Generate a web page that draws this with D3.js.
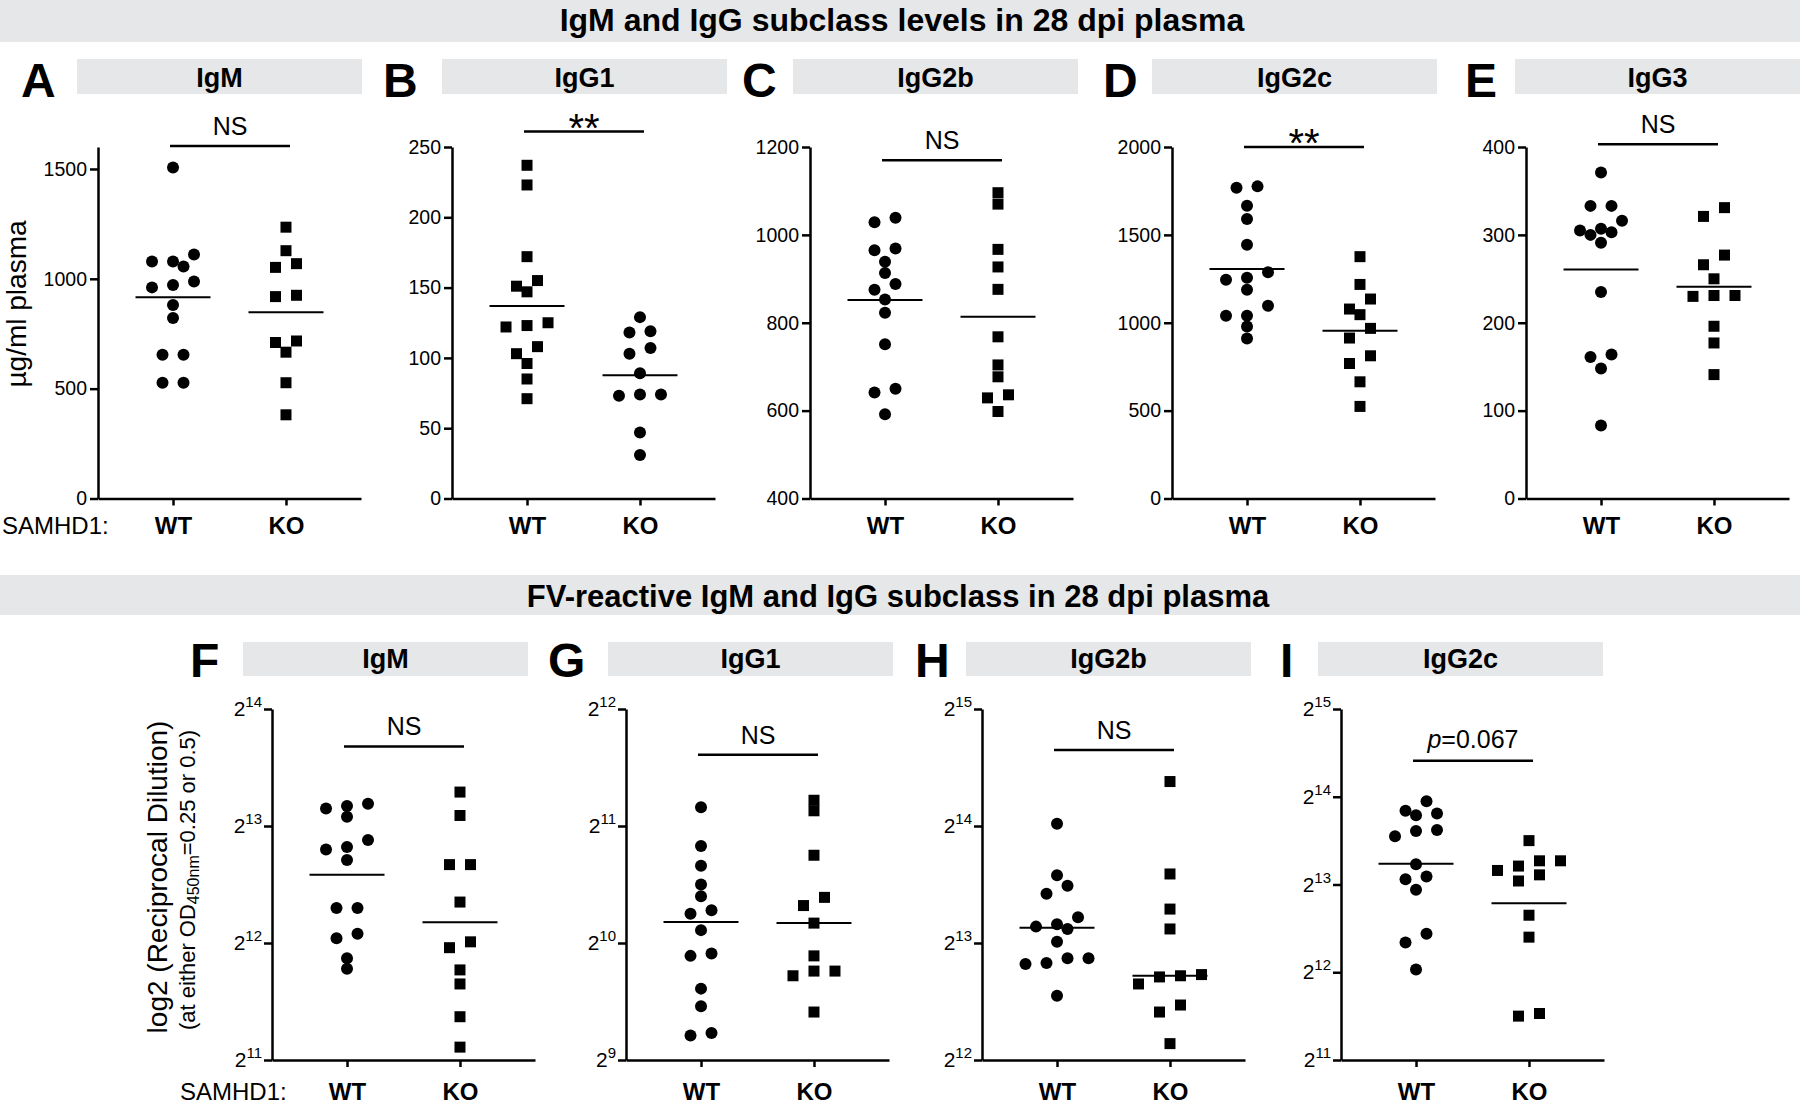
<!DOCTYPE html>
<html>
<head>
<meta charset="utf-8">
<script src="https://cdn.jsdelivr.net/npm/d3@7"></script>
<style>
  body { margin: 0; background: #fff; }
  svg text { font-family: "Liberation Sans", Arial, Helvetica, sans-serif; fill: #000; }
</style>
</head>
<body>
<script>
// ---- data ----
const groups = ["WT", "KO"];

// total Ig in plasma (ug/ml)
const igmWT   = [1507, 1111, 1079, 1079, 1056, 988, 972, 961, 881, 822, 654, 654, 527, 527];
const igmKO   = [1235, 1128, 1069, 1052, 925, 919, 717, 710, 666, 527, 381];
const igg1WT  = [237, 223, 172, 155, 151, 147, 125, 123, 122, 108, 103, 96, 85, 71];
const igg1KO  = [129, 119, 118, 107, 103, 89, 74, 74, 73, 47, 31];
const igg2bWT = [1039, 1029, 969, 965, 939, 913, 888, 875, 853, 823, 751, 650, 641, 592];
const igg2bKO = [1096, 1070, 967, 927, 876, 768, 704, 677, 636, 629, 598];
const igg2cWT = [1776, 1768, 1666, 1590, 1444, 1288, 1256, 1245, 1188, 1097, 1040, 1040, 979, 911];
const igg2cKO = [1376, 1218, 1135, 1078, 1046, 968, 913, 812, 768, 664, 524];
const igg3WT  = [371, 333, 333, 316, 307, 305, 303, 300, 291, 235, 164, 161, 148, 83];
const igg3KO  = [331, 321, 277, 266, 250, 231, 231, 230, 196, 177, 141];

// FV-reactive titres, log2(reciprocal dilution)
const fvIgmWT   = [13.19, 13.17, 13.15, 13.08, 12.88, 12.82, 12.80, 12.71, 12.30, 12.30, 12.08, 12.04, 11.87, 11.78];
const fvIgmKO   = [13.29, 13.09, 12.67, 12.67, 12.35, 12.01, 11.96, 11.77, 11.65, 11.37, 11.11];
const fvIgg1WT  = [11.16, 10.83, 10.66, 10.50, 10.40, 10.28, 10.25, 10.11, 9.91, 9.89, 9.61, 9.46, 9.23, 9.21];
const fvIgg1KO  = [11.22, 11.13, 10.75, 10.39, 10.32, 10.17, 9.89, 9.76, 9.76, 9.72, 9.41];
const fvIgg2bWT = [14.02, 13.58, 13.49, 13.42, 13.22, 13.16, 13.14, 13.12, 13.01, 12.87, 12.87, 12.83, 12.82, 12.55];
const fvIgg2bKO = [14.38, 13.59, 13.29, 13.12, 12.73, 12.72, 12.71, 12.65, 12.47, 12.41, 12.14];
const fvIgg2cWT = [13.95, 13.84, 13.81, 13.79, 13.62, 13.61, 13.55, 13.23, 13.09, 13.06, 12.94, 12.44, 12.34, 12.03];
const fvIgg2cKO = [13.50, 13.27, 13.27, 13.21, 13.16, 13.11, 13.04, 12.65, 12.40, 11.53, 11.50];

// ---- layout ----
const width = 1800, height = 1107;
const grey = "#e6e7e8";

const svg = d3.select("body").append("svg")
  .attr("width", width)
  .attr("height", height);

const sections = [
  { y: 0, h: 42, text: "IgM and IgG subclass levels in 28 dpi plasma", cx: 902, base: 31, size: 32 },
  { y: 575, h: 40, text: "FV-reactive IgM and IgG subclass in 28 dpi plasma", cx: 898, base: 607, size: 31 }
];

sections.forEach(s => {
  svg.append("rect").attr("x", 0).attr("y", s.y).attr("width", width).attr("height", s.h).attr("fill", grey);
  svg.append("text").attr("x", s.cx).attr("y", s.base)
    .attr("text-anchor", "middle").attr("font-size", s.size).attr("font-weight", "bold")
    .text(s.text);
});

const rows = {
  top:    { bottom: 498.5, top: 147, boxY: 59, boxH: 35, titleY: 87, letterY: 97, labelY: 534, log: false },
  bottom: { bottom: 1060, top: 709, boxY: 642, boxH: 34, titleY: 668, letterY: 677, labelY: 1100, log: true }
};

const panels = [
  { letter: "A", title: "IgM",   row: "top", x: 98,   boxX: 77,   letterX: 21,   domain: [0, 1600], ticks: [0, 500, 1000, 1500], wt: igmWT,   ko: igmKO,   shapes: ["circle", "square"], stat: "mean", sig: "NS", sigAt: 1605 },
  { letter: "B", title: "IgG1",  row: "top", x: 452,  boxX: 442,  letterX: 383,  domain: [0, 250],  ticks: [0, 50, 100, 150, 200, 250], wt: igg1WT, ko: igg1KO, shapes: ["square", "circle"], stat: "mean", sig: "**", sigAt: 261 },
  { letter: "C", title: "IgG2b", row: "top", x: 810,  boxX: 793,  letterX: 742,  domain: [400, 1200], ticks: [400, 600, 800, 1000, 1200], wt: igg2bWT, ko: igg2bKO, shapes: ["circle", "square"], stat: "mean", sig: "NS", sigAt: 1170 },
  { letter: "D", title: "IgG2c", row: "top", x: 1172, boxX: 1152, letterX: 1103, domain: [0, 2000], ticks: [0, 500, 1000, 1500, 2000], wt: igg2cWT, ko: igg2cKO, shapes: ["circle", "square"], stat: "mean", sig: "**", sigAt: 2000 },
  { letter: "E", title: "IgG3",  row: "top", x: 1526, boxX: 1515, letterX: 1465, domain: [0, 400],  ticks: [0, 100, 200, 300, 400], wt: igg3WT, ko: igg3KO, shapes: ["circle", "square"], stat: "mean", sig: "NS", sigAt: 403 },
  { letter: "F", title: "IgM",   row: "bottom", x: 272,  boxX: 243,  letterX: 190,  domain: [11, 14], ticks: [11, 12, 13, 14], wt: fvIgmWT,   ko: fvIgmKO,   shapes: ["circle", "square"], stat: "mean",   sig: "NS", sigAt: 13.68 },
  { letter: "G", title: "IgG1",  row: "bottom", x: 626,  boxX: 608,  letterX: 548,  domain: [9, 12],  ticks: [9, 10, 11, 12],  wt: fvIgg1WT,  ko: fvIgg1KO,  shapes: ["circle", "square"], stat: "median", sig: "NS", sigAt: 11.61 },
  { letter: "H", title: "IgG2b", row: "bottom", x: 982,  boxX: 966,  letterX: 915,  domain: [12, 15], ticks: [12, 13, 14, 15], wt: fvIgg2bWT, ko: fvIgg2bKO, shapes: ["circle", "square"], stat: "median", sig: "NS", sigAt: 14.65 },
  { letter: "I", title: "IgG2c", row: "bottom", x: 1341, boxX: 1318, letterX: 1280, domain: [11, 15], ticks: [11, 12, 13, 14, 15], wt: fvIgg2cWT, ko: fvIgg2cKO, shapes: ["circle", "square"], stat: "mean", sig: "p", sigAt: 14.41 }
];

// spread points that sit at nearly the same height, GraphPad-style
function swarm(values, y, cx) {
  const rowH = 10.5, gap = 21, minD = 9.5;
  const pts = values.map(v => ({ v, y: y(v) })).sort((a, b) => a.y - b.y || a.v - b.v);
  const placed = [];
  let i = 0;
  while (i < pts.length) {
    let j = i + 1;
    while (j < pts.length && pts[j].y - pts[i].y < rowH) j++;
    const row = pts.slice(i, j).sort((a, b) => a.v - b.v);
    const n = row.length;
    const base = row.map((p, k) => (k - (n - 1) / 2) * gap);
    const shift = [0, gap / 2, -gap / 2, gap, -gap].find(s =>
      row.every((p, k) => placed.every(q => Math.hypot(base[k] + s - q.dx, p.y - q.y) >= minD))) ?? 0;
    row.forEach((p, k) => { p.dx = base[k] + shift; p.x = cx + p.dx; placed.push(p); });
    i = j;
  }
  return pts;
}

const symbols = {
  circle: d3.symbol().type(d3.symbolCircle).size(Math.PI * 36),
  square: d3.symbol().type(d3.symbolSquare).size(121)
};

panels.forEach(p => {
  const r = rows[p.row];
  const g = svg.append("g");

  // panel letter and title box
  g.append("text").attr("x", p.letterX).attr("y", r.letterY)
    .attr("font-size", 48).attr("font-weight", "bold").text(p.letter);
  g.append("rect").attr("x", p.boxX).attr("y", r.boxY).attr("width", 285).attr("height", r.boxH).attr("fill", grey);
  g.append("text").attr("x", p.boxX + 142.5).attr("y", r.titleY)
    .attr("text-anchor", "middle").attr("font-size", 27).attr("font-weight", "bold").text(p.title);

  const y = d3.scaleLinear().domain(p.domain).range([r.bottom, r.top]);
  const x = d3.scalePoint().domain(groups).range([0, 263]).padding(0.664);

  // y axis
  const yAxis = g.append("g")
    .attr("transform", `translate(${p.x},0)`)
    .call(d3.axisLeft(y).tickValues(p.ticks).tickFormat(d3.format("d"))
      .tickSize(8).tickPadding(3).tickSizeOuter(0));
  yAxis.selectAll(".tick text").attr("font-size", 19.5);
  if (r.log) {
    yAxis.selectAll(".tick text").each(function(d) {
      const t = d3.select(this).text(null).attr("font-size", 21).attr("x", -10);
      t.append("tspan").text("2");
      t.append("tspan").attr("font-size", 15).attr("dy", -9).text(d);
    });
  }

  // x axis
  const xAxis = g.append("g")
    .attr("transform", `translate(${p.x},${r.bottom})`)
    .call(d3.axisBottom(x).tickSize(7).tickSizeOuter(0));
  xAxis.selectAll(".tick text")
    .attr("y", r.labelY - r.bottom).attr("dy", null)
    .attr("font-size", 24).attr("font-weight", "bold");

  g.selectAll(".domain, .tick line").attr("stroke", "#000").attr("stroke-width", 2.5);

  // points and centre lines
  [p.wt, p.ko].forEach((vals, gi) => {
    const cx = p.x + x(groups[gi]);
    const pts = swarm(vals, y, cx);
    g.append("g").selectAll("path")
      .data(pts)
      .join("path")
      .attr("transform", d => `translate(${d.x},${d.y})`)
      .attr("d", symbols[p.shapes[gi]])
      .attr("fill", "#000");
    const c = p.stat === "median" ? d3.median(vals) : d3.mean(vals);
    g.append("line")
      .attr("x1", cx - 37.5).attr("x2", cx + 37.5)
      .attr("y1", y(c)).attr("y2", y(c))
      .attr("stroke", "#000").attr("stroke-width", 2);
  });

  // significance bracket
  const by = y(p.sigAt);
  const bx1 = p.x + x("WT") - 3, bx2 = p.x + x("KO") + 4;
  g.append("line").attr("x1", bx1).attr("x2", bx2).attr("y1", by).attr("y2", by)
    .attr("stroke", "#000").attr("stroke-width", 2.5);
  const lab = g.append("text").attr("x", (bx1 + bx2) / 2).attr("text-anchor", "middle");
  if (p.sig === "**") {
    lab.attr("y", by + 10).attr("font-size", 40).text("**");
  } else if (p.sig === "p") {
    lab.attr("y", by - 13).attr("font-size", 25);
    lab.append("tspan").attr("font-style", "italic").text("p");
    lab.append("tspan").text("=0.067");
  } else {
    lab.attr("y", by - 11).attr("font-size", 25).text(p.sig);
  }
});

// axis titles and group caption
svg.append("text")
  .attr("transform", "translate(26,304) rotate(-90)")
  .attr("text-anchor", "middle").attr("font-size", 28)
  .text("µg/ml plasma");

svg.append("text")
  .attr("transform", "translate(167,877) rotate(-90)")
  .attr("text-anchor", "middle").attr("font-size", 28)
  .text("log2 (Reciprocal Dilution)");

const sub = svg.append("text")
  .attr("transform", "translate(195,880) rotate(-90)")
  .attr("text-anchor", "middle").attr("font-size", 22);
sub.append("tspan").text("(at either OD");
sub.append("tspan").attr("font-size", 16).attr("dy", 4).text("450nm");
sub.append("tspan").attr("dy", -4).text("=0.25 or 0.5)");

[{ x: 2, y: rows.top.labelY }, { x: 180, y: rows.bottom.labelY }].forEach(s => {
  svg.append("text").attr("x", s.x).attr("y", s.y).attr("font-size", 24).text("SAMHD1:");
});
</script>
</body>
</html>
